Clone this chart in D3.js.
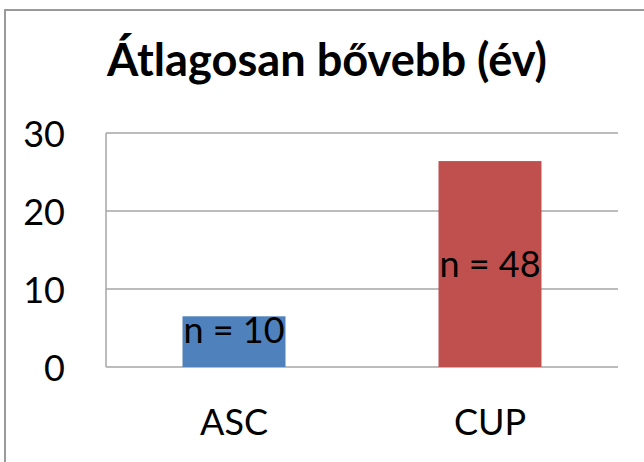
<!DOCTYPE html>
<html><head><meta charset="utf-8">
<script src="https://cdn.jsdelivr.net/npm/d3@7"></script>
<style>html,body{margin:0;padding:0;background:#fff;}svg{display:block;}</style>
</head><body>
<script>
const categories = ["ASC", "CUP"];
const values = [6.5, 26.4];
const labels = ["n = 10", "n = 48"];
const colors = ["#4F81BD", "#C0504D"];
const yTicks = [0, 10, 20, 30];
const title = "Átlagosan bővebb (év)";

(function () {
const W = 644, H = 462;
const font = "Lato, 'Open Sans', sans-serif";
const svg = d3.select("body").append("svg").attr("width", W).attr("height", H);

// outer border (only left/top visible)
svg.append("path").attr("d", `M5,${H} L5,10 L${W},10`)
  .attr("fill", "none").attr("stroke", "#9a9a9a").attr("stroke-width", 2);

const pLeft = 106, pRight = 618, pTop = 133, pBottom = 367;
const x = d3.scaleBand().domain(categories).range([pLeft, pRight]).paddingInner(0).paddingOuter(0);
const y = d3.scaleLinear().domain([0, 30]).range([pBottom, pTop]);

// gridlines
svg.append("g").selectAll("line").data(yTicks).join("line")
  .attr("x1", pLeft).attr("x2", pRight)
  .attr("y1", d => y(d)).attr("y2", d => y(d))
  .attr("stroke", "#a6a6a6").attr("stroke-width", 1.5);
// left axis line
svg.append("line").attr("x1", pLeft).attr("x2", pLeft).attr("y1", y(30)).attr("y2", y(0))
  .attr("stroke", "#a6a6a6").attr("stroke-width", 1.5);

function fitText(sel, target) {
  const w = sel.node().getComputedTextLength();
  const fs = parseFloat(sel.attr("font-size"));
  sel.attr("font-size", fs * target / w);
}
// y tick labels
svg.append("g").selectAll("text").data(yTicks).join("text")
  .attr("x", 65).attr("y", d => y(d))
  .attr("text-anchor", "end").attr("dominant-baseline", "central")
  .attr("font-family", font).attr("font-size", 36).attr("fill", "#000")
  .text(d => d);

// bars
const bw = 103;
const data = categories.map((c, i) => ({c, v: values[i], l: labels[i], col: colors[i]}));
svg.append("g").selectAll("rect").data(data).join("rect")
  .attr("x", d => x(d.c) + x.bandwidth() / 2 - bw / 2)
  .attr("width", bw)
  .attr("y", d => y(d.v))
  .attr("height", d => y(0) - y(d.v))
  .attr("fill", d => d.col);

// bar labels (centred, but kept inside the bar's bottom)
svg.append("g").selectAll("text").data(data).join("text")
  .attr("x", d => x(d.c) + x.bandwidth() / 2)
  .attr("y", d => Math.min((y(d.v) + y(0)) / 2 + 13, y(0) - 24))
  .attr("text-anchor", "middle")
  .attr("font-family", font).attr("font-size", 36).attr("fill", "#000")
  .text(d => d.l);

// category labels
svg.append("g").selectAll("text").data(categories).join("text")
  .attr("x", d => x(d) + x.bandwidth() / 2)
  .attr("y", 435)
  .attr("text-anchor", "middle")
  .attr("font-family", font).attr("font-size", 36).attr("fill", "#000")
  .text(d => d);

// title
const t = svg.append("text").attr("x", 327).attr("y", 76)
  .attr("text-anchor", "middle")
  .attr("font-family", font).attr("font-weight", "bold").attr("font-size", 46)
  .attr("fill", "#000").text(title);
fitText(t, 440);
})();
</script>
</body></html>
